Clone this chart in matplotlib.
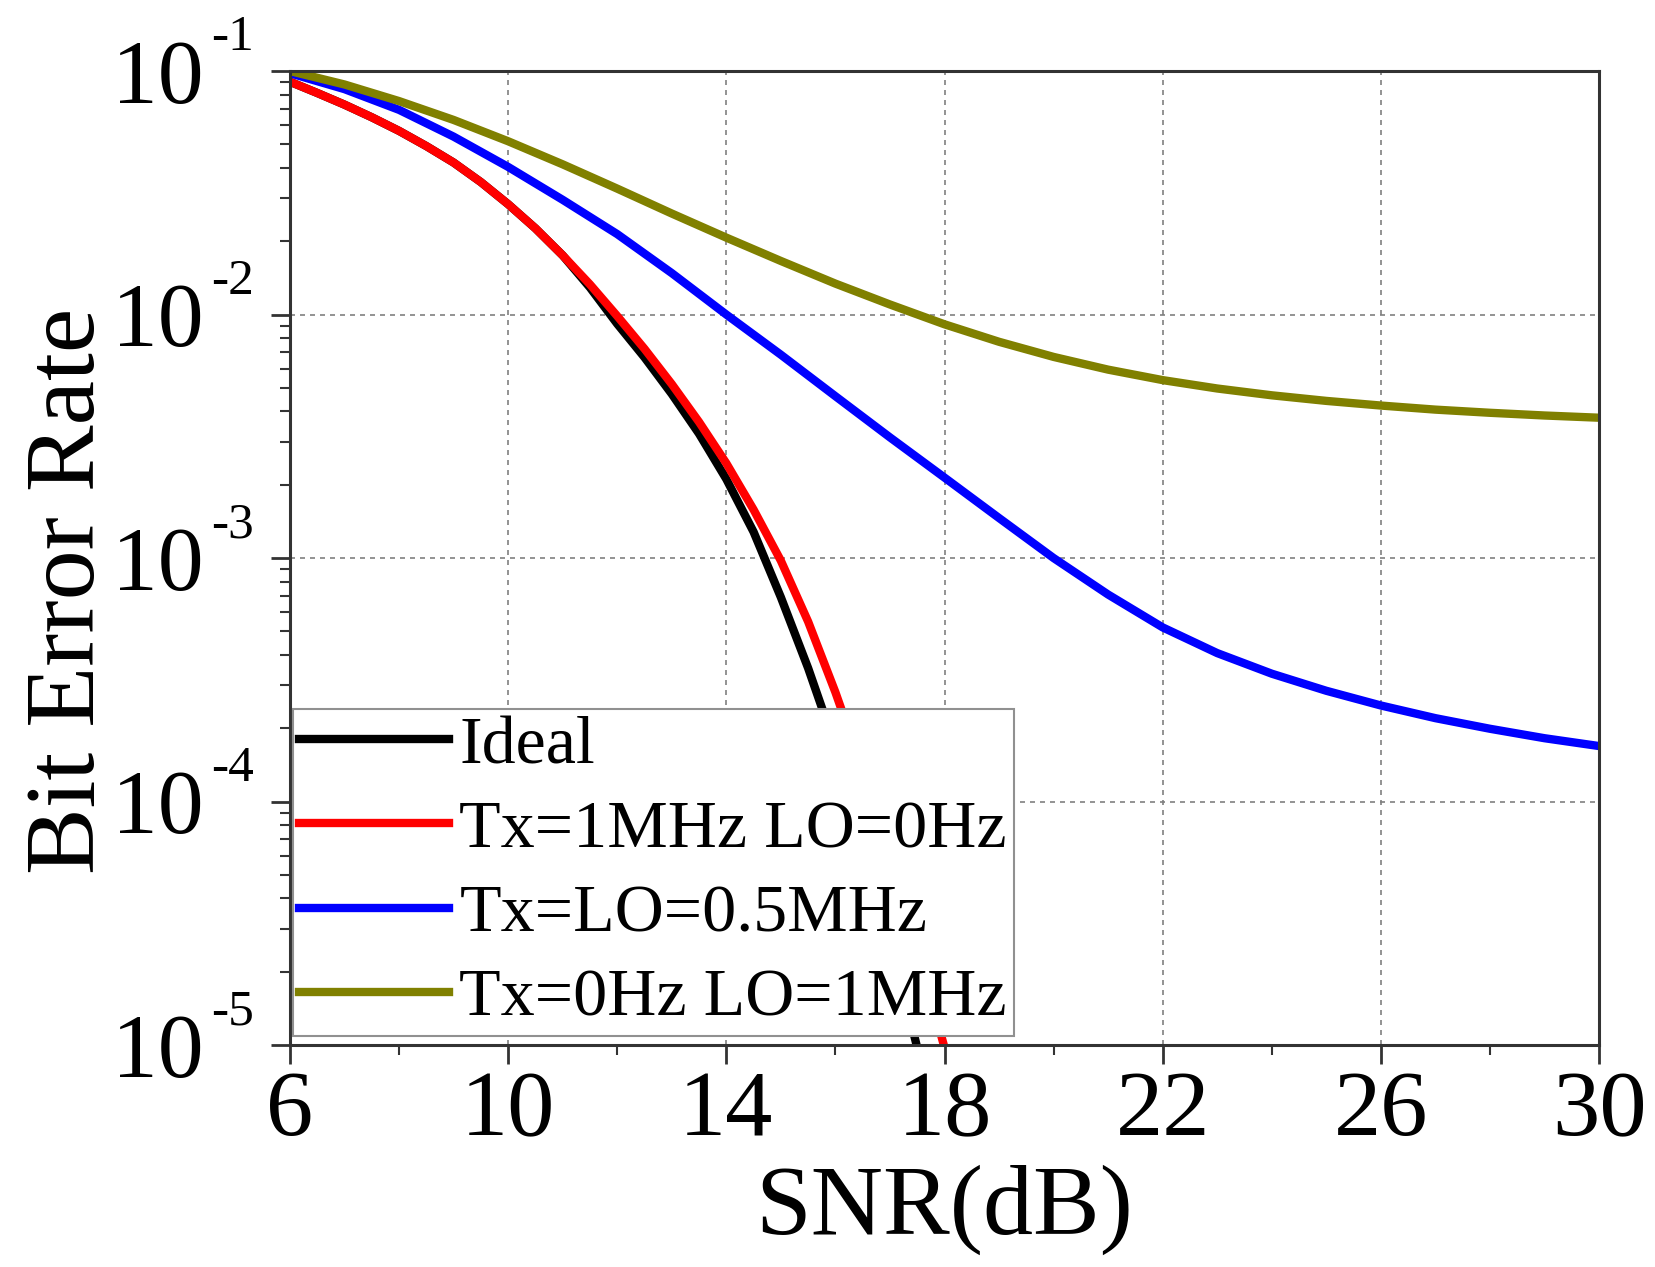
import matplotlib
matplotlib.use('Agg')
import matplotlib.pyplot as plt
from matplotlib.ticker import LogLocator, NullFormatter, MultipleLocator
from matplotlib.transforms import blended_transform_factory, ScaledTranslation

plt.rcParams['font.family'] = ['Liberation Serif', 'DejaVu Serif']

# ---------------- data ----------------
snr_steep = [6, 6.5, 7, 7.5, 8, 8.5, 9, 9.5, 10, 10.5, 11, 11.5, 12, 12.5, 13,
             13.5, 14, 14.5, 15, 15.5, 16, 16.5, 17, 17.5, 18]
ber_ideal = [0.0904, 0.0813, 0.0728, 0.0646, 0.0568, 0.0492, 0.0421, 0.0350,
             0.0284, 0.0226, 0.0175, 0.01291, 0.00916, 0.00667, 0.00472,
             0.00324, 0.00211, 0.00128, 6.90e-4, 3.53e-4, 1.68e-4, 7.06e-5,
             2.74e-5, 9.75e-6, 3.55e-6]
ber_tx1 = [0.0904, 0.0813, 0.0728, 0.0646, 0.0568, 0.0492, 0.0421, 0.0350,
           0.0284, 0.0226, 0.0175, 0.0133, 0.00986, 0.00723, 0.00518,
           0.00362, 0.00245, 0.00158, 9.75e-4, 5.48e-4, 2.81e-4, 1.35e-4,
           6.01e-5, 2.51e-5, 9.75e-6]

snr_full = list(range(6, 31))
ber_txlo = [0.098, 0.0843, 0.0693, 0.0538, 0.0404, 0.0296, 0.0214, 0.0148,
            0.0100, 0.00684, 0.00462, 0.00313, 0.00214, 0.00146, 0.00100,
            7.08e-4, 5.19e-4, 4.07e-4, 3.35e-4, 2.85e-4, 2.48e-4, 2.20e-4,
            1.99e-4, 1.82e-4, 1.69e-4]
ber_lo1 = [0.100, 0.0881, 0.0753, 0.0630, 0.0515, 0.0414, 0.0329, 0.0260,
           0.0207, 0.0166, 0.0134, 0.0110, 0.00912, 0.00773, 0.00670,
           0.00594, 0.00538, 0.00497, 0.00466, 0.00442, 0.00423, 0.00407,
           0.00395, 0.00385, 0.00377]

labels = ['Ideal', 'Tx=1MHz LO=0Hz', 'Tx=LO=0.5MHz', 'Tx=0Hz LO=1MHz']
colors = ['#000000', '#ff0000', '#0000ff', '#808000']

xticks = [6, 10, 14, 18, 22, 26, 30]
yticks = [1e-5, 1e-4, 1e-3, 1e-2, 1e-1]
ytick_base = '10'
ytick_exps = ['-5', '-4', '-3', '-2', '-1']

# ---------------- figure ----------------
fig = plt.figure(figsize=(16.55, 12.67), dpi=100)
ax = fig.add_axes([0.1752, 0.1752, 0.791, 0.7687])

lw = 6
ax.plot(snr_steep, ber_ideal, color=colors[0], lw=lw, label=labels[0])
ax.plot(snr_steep, ber_tx1, color=colors[1], lw=lw, label=labels[1])
ax.plot(snr_full, ber_txlo, color=colors[2], lw=lw, label=labels[2])
ax.plot(snr_full, ber_lo1, color=colors[3], lw=lw, label=labels[3])

ax.set_yscale('log')
ax.set_xlim(6, 30)
ax.set_ylim(1e-5, 1e-1)

ax.set_xticks(xticks)
ax.set_xticklabels([str(t) for t in xticks])
ax.xaxis.set_minor_locator(MultipleLocator(2))
ax.set_yticks(yticks)
ax.set_yticklabels([ytick_base] * len(yticks))
ax.yaxis.set_minor_locator(LogLocator(base=10, subs=range(2, 10)))
ax.yaxis.set_minor_formatter(NullFormatter())

ax.tick_params(which='major', direction='out', length=14, width=2, labelsize=68,
               color='#333333', top=False, right=False)
ax.tick_params(axis='x', which='major', pad=4)
ax.tick_params(axis='y', which='major', pad=48, labelsize=66)
ax.tick_params(which='minor', direction='out', length=7, width=1.5,
               color='#333333', top=False, right=False)

# exponent superscripts of the y tick labels
sup_tr = blended_transform_factory(ax.transAxes, ax.transData) + \
    ScaledTranslation(0, 0.21, fig.dpi_scale_trans)
for v, e in zip(yticks, ytick_exps):
    ax.text(-0.0605, v, e, transform=sup_tr, fontsize=37, ha='left',
            va='baseline', clip_on=False)

for s in ax.spines.values():
    s.set_linewidth(2.2)
    s.set_color('#333333')

ax.grid(True, which='major', color='#808080', linestyle=(0, (3, 3)), linewidth=1.2)
ax.set_axisbelow(True)

ax.set_xlabel('SNR(dB)', fontsize=72, labelpad=7)
ax.set_ylabel('Bit Error Rate', fontsize=72)
ax.yaxis.set_label_coords(-0.134, 0.466)

leg = ax.legend(loc='lower left', bbox_to_anchor=(0.002, 0.009), borderaxespad=0,
                fontsize=49, handlelength=2.2, handletextpad=0.15, labelspacing=0.33,
                borderpad=0.1, frameon=True, fancybox=False, edgecolor='#909090',
                framealpha=1)
leg.get_frame().set_linewidth(1.5)

fig.savefig('out.png', dpi=100)
